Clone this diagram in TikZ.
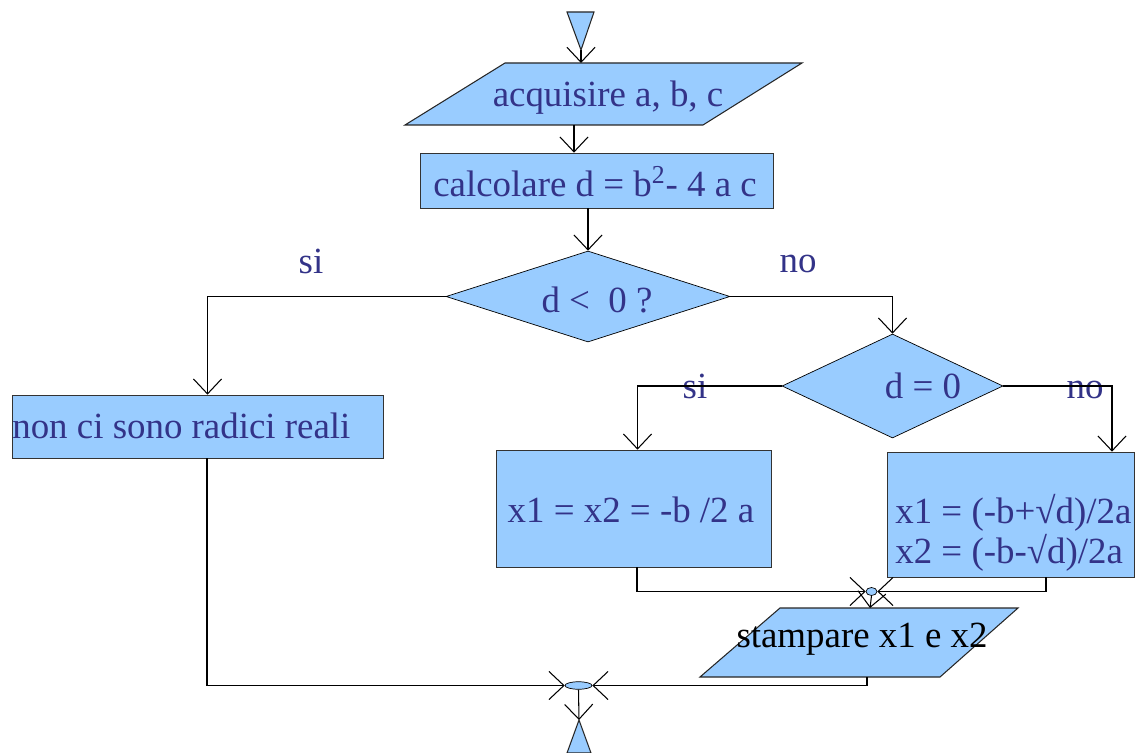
\documentclass[tikz,border=0pt]{standalone}
\usepackage{fontspec}
\setmainfont{Liberation Serif}
\usetikzlibrary{arrows.meta,shapes.geometric}
\definecolor{BoxBlue}{HTML}{99CCFF}
\definecolor{TextNavy}{HTML}{333388}
\tikzset{
  procbox/.style={draw=black!80, fill=BoxBlue, inner sep=0pt},
  iobox/.style={draw=black!85, fill=BoxBlue, line width=0.6pt},
  decbox/.style={diamond, draw=black, fill=BoxBlue, inner sep=0pt},
  joint/.style={ellipse, draw=black, fill=BoxBlue, inner sep=0pt},
  txt/.style={text=TextNavy, font=\fontsize{21}{22.7}\selectfont, inner sep=0pt, anchor=base},
  flow/.style={-{Straight Barb[length=8.5pt,width=16pt]}, line width=0.6pt}
}
\begin{document}
\begin{tikzpicture}[x=0.02cm, y=-0.02cm]
\useasboundingbox (0,0) rectangle (1139,753);
% start and input
\draw[iobox] (567,12) -- (594,12) -- (581,50) -- cycle;
\coordinate (startTip) at (581,50);
\draw[iobox] (505,63) -- (802,63) -- (703,125) -- (405,125) -- cycle;
\coordinate (in1top) at (581,63);
\coordinate (in1bot) at (574,125);
\node[txt] (acq) at (608,107) {acquisire a, b, c};
% computation and first test
\node[procbox, minimum width=7.06cm, minimum height=1.10cm] (calc) at (596.5,180.5) {};
\node[txt] (calctxt) at (595,197) {calcolare d = b\textsuperscript{2}- 4 a c};
\node[decbox, minimum width=5.68cm, minimum height=1.82cm] (d1) at (588,296.5) {};
\node[txt] (d1txt) at (597,312) {d <\ \ 0 ?};
% no roots
\node[procbox, minimum width=7.42cm, minimum height=1.26cm] (noroot) at (197.5,426.5) {};
\node[txt, anchor=base west] (noroottxt) at (12,438) {non ci sono radici reali};
% second test
\node[decbox, minimum width=4.42cm, minimum height=2.08cm] (d2) at (892.5,386) {};
\node[txt] (d2txt) at (923,398) {d = 0};
\node[procbox, minimum width=5.5cm, minimum height=2.34cm] (eq) at (633.5,508.5) {};
\node[txt] (eqtxt) at (631,522) {x1 = x2 = -b /2 a};
\node[procbox, minimum width=4.94cm, minimum height=2.5cm] (two) at (1010.5,514.5) {};
\node[txt, anchor=west, align=left] (twotxt) at (895,533) {x1 = (-b+√d)/2a\\x2 = (-b-√d)/2a};
% output and end
\node[joint, minimum width=0.22cm, minimum height=0.16cm] (joint1) at (871.5,591.5) {};
\draw[iobox] (780,608) -- (1018,608) -- (940,677) -- (700,677) -- cycle;
\coordinate (in2top) at (870,608);
\coordinate (in2bot) at (867,677);
\node[txt, text=black] (stamp) at (862,647) {stampare x1 e x2};
\node[joint, minimum width=0.54cm, minimum height=0.15cm] (joint2) at (578.5,685.5) {};
\draw[iobox] (567,753) -- (591,753) -- (579,720) -- cycle;
\coordinate (endTip) at (579,720);
% branch labels
\node[txt] (si1) at (311,274) {si};
\node[txt] (no1) at (798,273) {no};
\node[txt] (si2) at (695,398) {si};
\node[txt] (no2) at (1085,398) {no};
% connectors
\draw[flow] (startTip) -- (in1top);
\draw[flow] (in1bot) -- (in1bot |- calc.north);
\draw[flow] (d1.north |- calc.south) -- (d1.north);
\draw[flow] (d1.west) -| ([xshift=0.2cm]noroot.north);
\draw[flow] (d1.east) -| (d2.north);
\draw[flow] (d2.west) -| ([xshift=0.08cm]eq.north);
\draw[flow] (d2.east) -| ([xshift=2.03cm]two.north);
\draw[flow] ([xshift=0.07cm]eq.south) |- (joint1.west);
\draw[flow] ([xshift=0.71cm]two.south) |- (joint1.east);
\draw[flow] (joint1.south) -- (in2top);
\draw[flow] (in2bot) |- (joint2.east);
\draw[flow] ([xshift=0.19cm]noroot.south) |- (joint2.west);
\draw[flow] (joint2.south) -- (endTip);
\end{tikzpicture}
\end{document}
